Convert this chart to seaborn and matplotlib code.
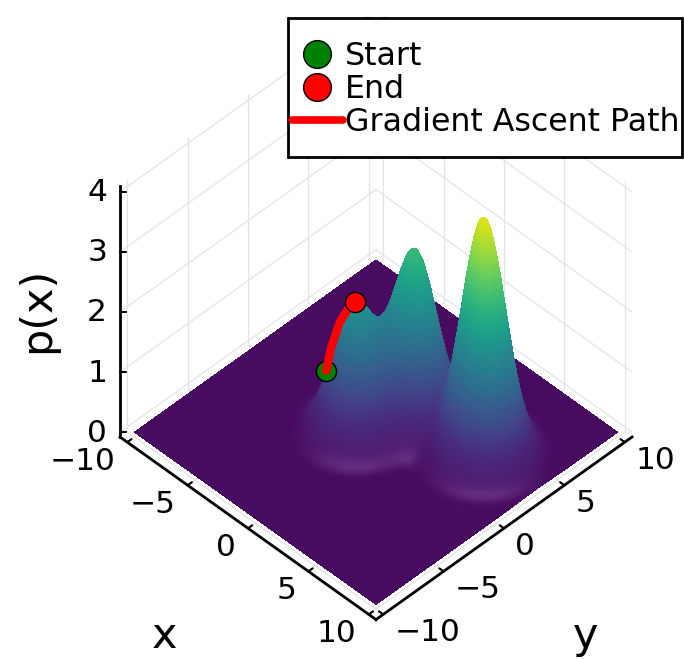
import numpy as np
import matplotlib
matplotlib.use("Agg")
import matplotlib.pyplot as plt
from matplotlib.lines import Line2D
from matplotlib.patches import Rectangle
from matplotlib.colors import Normalize
from mpl_toolkits.mplot3d import proj3d
import seaborn as sns

# ---- data
peak_x = [5.6, 0.6, -1.16]
peak_y = [3.3, 2.6, -0.58]
peak_h = [3.9, 2.72, 2.02]
peak_sigma = [1.31, 1.29, 1.31]
path_x = [-2.56, -2.56, -2.31, -1.86, -1.16]
path_y = [-1.56, -1.17, -0.68, -0.46, -0.58]
path_z = [0.88, 1.2, 1.6, 1.85, 2.08]
axis_ticks = [-10, -5, 0, 5, 10]
z_ticks = [0, 1, 2, 3, 4]
surface_limit = 10
box_limit = 10.6
z_floor, z_top = -0.08, 4.1
color_max = 4.1
base_color = (0.278, 0.043, 0.373)
foot_color = (0.40, 0.18, 0.50)

sns.set_theme(style="white")
plt.rcParams["font.family"] = ["DejaVu Sans"]
W, H = 684, 659
fig = plt.figure(figsize=(W / 100, H / 100), dpi=100)
ax = fig.add_axes([0.1, 0.1, 0.8, 0.8 * W / H], projection="3d", computed_zorder=False)
ax.set_proj_type("ortho")
ax.view_init(elev=45.5, azim=-45)
ax.set_xlim(-box_limit, box_limit)
ax.set_ylim(-box_limit, box_limit)
ax.set_zlim(z_floor, z_top)
ax.set_box_aspect((1, 1, 0.99))
ax.set_axis_off()


def to_px(x, y, z):
    xs, ys, _ = proj3d.proj_transform(x, y, z, ax.get_proj())
    d = ax.transData.transform((xs, ys))
    return d[0], H - d[1]


# scale and place the box so that the floor corners land where they do in the reference
fig.canvas.draw()
L = to_px(-box_limit, -box_limit, z_floor)
R = to_px(box_limit, box_limit, z_floor)
p = ax.get_position(original=True)
k = 512 / (R[0] - L[0])
ax.set_position([p.x0, p.y0, p.width * k, p.height * k])
fig.canvas.draw()
L = to_px(-box_limit, -box_limit, z_floor)
R = to_px(box_limit, box_limit, z_floor)
dx = 376 - (L[0] + R[0]) / 2
dy = 437 - (L[1] + R[1]) / 2
p = ax.get_position(original=True)
ax.set_position([p.x0 + dx / W, p.y0 - dy / H, p.width, p.height])
fig.canvas.draw()

# surface
grid = np.linspace(-surface_limit, surface_limit, 321)
X, Y = np.meshgrid(grid, grid)
Z = np.zeros_like(X)
for cx, cy, h, s in zip(peak_x, peak_y, peak_h, peak_sigma):
    Z += h * np.exp(-((X - cx) ** 2 + (Y - cy) ** 2) / (2 * s ** 2))

cmap = sns.color_palette("viridis", as_cmap=True)
rgba = cmap(Normalize(0, color_max)(Z))
# the faint lighter rim at the front foot of the hills
Zy, Zx = np.gradient(Z, grid, grid)
slope = np.hypot(Zx, Zy) + 1e-12
front = np.clip(-(Zx - Zy) / np.sqrt(2) / slope, 0, 1) ** 3
rim = 0.85 * np.exp(-((np.log(Z + 1e-9) - np.log(0.05)) / 1.1) ** 2) * front
fade = np.clip(Z / 0.6, 0, 1)
fade = fade * fade * (3 - 2 * fade)
base = np.array(base_color)
for i in range(3):
    chan = rgba[..., i] + (base[i] - cmap(0.0)[i]) * (1 - fade)
    rgba[..., i] = np.clip(chan + rim * (foot_color[i] - base[i]), 0, 1)

# walls and floor grid
gc = dict(color="#e4e4e4", lw=0.9, zorder=1)
for t in axis_ticks:
    ax.plot([-box_limit, -box_limit], [t, t], [z_floor, z_top], **gc)
    ax.plot([t, t], [box_limit, box_limit], [z_floor, z_top], **gc)
    ax.plot([t, t], [-box_limit, box_limit], [z_floor, z_floor], **gc)
    ax.plot([-box_limit, box_limit], [t, t], [z_floor, z_floor], **gc)
for t in z_ticks:
    ax.plot([-box_limit, -box_limit], [-box_limit, box_limit], [t, t], **gc)
    ax.plot([-box_limit, box_limit], [box_limit, box_limit], [t, t], **gc)

# black axes
ac = dict(color="black", lw=2.0, zorder=1.5, solid_capstyle="projecting")
ax.plot([-box_limit, box_limit], [-box_limit, -box_limit], [z_floor, z_floor], **ac)
ax.plot([box_limit, box_limit], [-box_limit, box_limit], [z_floor, z_floor], **ac)
ax.plot([-box_limit, -box_limit], [-box_limit, -box_limit], [z_floor, z_top], **ac)
tc = dict(color="black", lw=1.5, zorder=1.5)
for t in axis_ticks:
    ax.plot([t, t], [-box_limit, -box_limit + 0.35], [z_floor, z_floor], **tc)
    ax.plot([box_limit, box_limit - 0.35], [t, t], [z_floor, z_floor], **tc)
for t in z_ticks:
    ax.plot([-box_limit, -box_limit + 0.25], [-box_limit, -box_limit + 0.25], [t, t], **tc)

ax.plot_surface(X, Y, Z, facecolors=rgba, rstride=1, cstride=1, linewidth=0,
                antialiased=False, shade=False, zorder=2)

ax.plot(path_x[:1], path_y[:1], path_z[:1], "o", ms=14.5, mfc="green", mec="black", mew=1, zorder=3)
ax.plot(path_x, path_y, path_z, color="red", lw=6, zorder=4, solid_capstyle="round")
ax.plot(path_x[-1:], path_y[-1:], path_z[-1:], "o", ms=14.5, mfc="red", mec="black", mew=1, zorder=5)


# text
def put(px, py, s, size=22.5, **kw):
    return fig.text(px / W, 1 - py / H, s, fontsize=size, color="black", **kw)


def minus(t):
    return str(t).replace("-", "\u2212")


for t in axis_ticks:
    a = to_px(t, -box_limit, z_floor)
    put(a[0] - 12, a[1] + 19, minus(t), ha="right", va="center")
    b = to_px(box_limit, t, z_floor)
    put(b[0] + 11, b[1] + 18, minus(t), ha="left", va="center")
for t in z_ticks:
    c = to_px(-box_limit, -box_limit, t)
    put(c[0] - 13, c[1] + 1, str(t), ha="right", va="center")

put(165, 636, "x", size=31, ha="center", va="center")
put(585, 636, "y", size=31, ha="center", va="center")
put(37, 310, "p(x)", size=31, ha="center", va="center", rotation=90)

# legend
frame = Rectangle((288 / W, 1 - 157 / H), 394 / W, 139 / H, transform=fig.transFigure,
                  facecolor="white", edgecolor="black", lw=2.0, zorder=5)
fig.add_artist(frame)
handles = [
    Line2D([], [], marker="o", ls="", ms=20, mfc="green", mec="black", mew=1),
    Line2D([], [], marker="o", ls="", ms=20, mfc="red", mec="black", mew=1),
    Line2D([], [], color="red", lw=5.5),
]
leg = fig.legend(handles, ["Start", "End", "Gradient Ascent Path"], loc="upper left",
                 bbox_to_anchor=(292 / W, 1 - 41 / H), frameon=False, fontsize=22.8,
                 borderpad=0, borderaxespad=0, handlelength=1.6, handletextpad=0.07,
                 labelspacing=0.07, labelcolor="black")
leg.set_zorder(6)

fig.savefig("out.png", dpi=100)
